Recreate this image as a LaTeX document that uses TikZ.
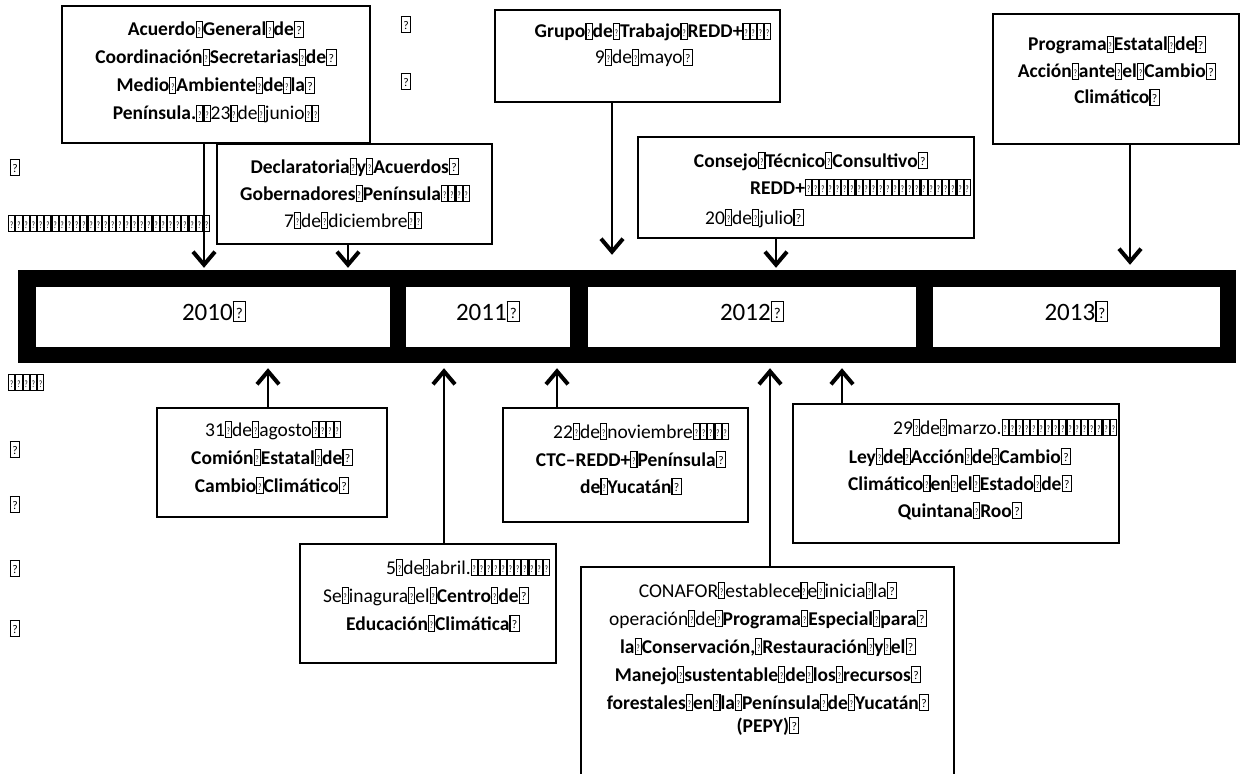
\documentclass[tikz,border=0pt]{standalone}
\usepackage{fontspec}
\setmainfont{Carlito}
\usepackage{graphicx}
\usetikzlibrary{arrows.meta}

\newcommand\gbx[3]{{\fboxsep=0pt\fboxrule=0.055em\fbox{\makebox[#1]{\rule[-0.03em]{0pt}{0.74em}\raisebox{0.08em}{\scalebox{#2}[#3]{\fontseries{m}\selectfont ?}}}}}}
\newcommand\gs{\gbx{0.26em}{0.35}{0.5}}
\newcommand\gq{\gbx{0.42em}{0.6}{0.6}}
\newcommand\gsn[1]{\foreach\k in {1,...,#1}{\gs}}

\tikzset{
  box/.style={draw, line width=2.5pt, fill=white, inner sep=0pt},
  txt/.style={anchor=base, inner sep=0pt, font=\fontsize{19.5}{23}\selectfont},
  txtw/.style={txt, anchor=base west},
  year/.style={anchor=base, inner sep=0pt, font=\fontsize{25}{30}\selectfont},
  yearbox/.style={fill=white, inner sep=0pt},
  arr/.style={line width=2.5pt, -{Straight Barb[length=13pt,width=22pt,line width=4pt]}},
}

\begin{document}
\begin{tikzpicture}[x=1pt,y=-1pt]
\useasboundingbox (0,0) rectangle (1241,773);

% stray marks
\node[txt] (m1) at (406,31) {\gq};
\node[txt] (m2) at (406,88) {\gq};
\node[txt] (m3) at (15,174) {\gq};
\node[txtw] (m4) at (8,230) {\gsn{28}};
\node[txtw] (m5) at (8,389) {\gsn{5}};
\node[txt] (m6) at (15,456) {\gq};
\node[txt] (m7) at (15,511) {\gq};
\node[txt] (m8) at (15,575) {\gq};
\node[txt] (m9) at (15,635) {\gq};

% timeline bar
\node[fill=black, minimum width=1218pt, minimum height=93pt, inner sep=0pt] (bar) at (627,316.5) {};
\node[yearbox, minimum width=354pt, minimum height=60pt] (y2010) at (213,317) {};
\node[yearbox, minimum width=164pt, minimum height=60pt] (y2011) at (488,317) {};
\node[yearbox, minimum width=328pt, minimum height=60pt] (y2012) at (752,317) {};
\node[yearbox, minimum width=287pt, minimum height=60pt] (y2013) at (1076.5,317) {};
\node[year] (t2010) at (214,320) {2010\gq};
\node[year] (t2011) at (488,320) {2011\gq};
\node[year] (t2012) at (752,320) {2012\gq};
\node[year] (t2013) at (1076.5,320) {2013\gq};

% top boxes
\node[box, minimum width=308pt, minimum height=137pt] (acuerdo) at (216,74.5) {};
\node[txt] (a1) at (216,36) {\textbf{Acuerdo\gs General\gs de}\gq};
\node[txt] (a2) at (216,64) {\textbf{Coordinación\gs Secretarias\gs de}\gq};
\node[txt] (a3) at (216,92) {\textbf{Medio\gs Ambiente\gs de\gs la}\gq};
\node[txt] (a4) at (216,120) {\textbf{Península.}\gs\gs 23\gs de\gs junio\gs\gs};

\node[box, minimum width=275pt, minimum height=100pt] (decl) at (354.5,194) {};
\node[txt] (d1) at (355,173) {\textbf{Declaratoria\gs y\gs Acuerdos}\gq};
\node[txt] (d2) at (355,200) {\textbf{Gobernadores\gs Península}\gs\gs\gs\gs};
\node[txt] (d3) at (353,227) {7\gs de\gs diciembre\gs\gs};

\node[box, minimum width=285pt, minimum height=92pt] (grupo) at (637.5,56) {};
\node[txt] (g1) at (653,38) {\textbf{Grupo\gs de\gs Trabajo\gs REDD+}\gs\gs\gs\gs};
\node[txt] (g2) at (644,64) {9\gs de\gs mayo\gq};

\node[box, minimum width=336pt, minimum height=101pt] (consejo) at (806,187.5) {};
\node[txt] (c1) at (811,167) {\textbf{Consejo\gs Técnico\gs Consultivo}\gq};
\begin{scope}
  \clip (consejo.south west) rectangle (consejo.north east);
  \node[txtw] (c2) at (750,194) {\textbf{REDD+}\gsn{23}};
\end{scope}
\node[txtw] (c3) at (705,224) {20\gs de\gs julio\gq};

\node[box, minimum width=246pt, minimum height=130pt] (programa) at (1116,79) {};
\node[txt] (p1) at (1117,51) {\textbf{Programa\gs Estatal\gs de}\gq};
\node[txt] (p2) at (1117,78) {\textbf{Acción\gs ante\gs el\gs Cambio}\gq};
\node[txt] (p3) at (1117,104) {\textbf{Climático}\gq};

% bottom boxes
\node[box, minimum width=230pt, minimum height=109pt] (comion) at (272,462.5) {};
\node[txt] (o1) at (273,436) {31\gs de\gs agosto\gs\gs\gs\gs};
\node[txt] (o2) at (272,464) {\textbf{Comión\gs Estatal\gs de}\gq};
\node[txt] (o3) at (272,492) {\textbf{Cambio\gs Climático}\gq};

\node[box, minimum width=256pt, minimum height=119pt] (abril) at (428,603.5) {};
\begin{scope}
  \clip (abril.south west) rectangle (abril.north east);
  \node[txtw] (b1) at (386,574) {5\gs de\gs abril.\gsn{11}};
\end{scope}
\node[txt] (b2) at (426,602) {Se\gs inagura\gs el\gs\textbf{Centro\gs de}\gq};
\node[txt] (b3) at (433,630) {\textbf{Educación\gs Climática}\gq};

\node[box, minimum width=245pt, minimum height=114pt] (nov) at (625.5,465) {};
\node[txt] (n1) at (641,438) {22\gs de\gs noviembre\gs\gs\gs\gs\gs};
\node[txt] (n2) at (631,466) {\textbf{CTC–REDD+\gs Península}\gq};
\node[txt] (n3) at (631,493) {\textbf{de\gs Yucatán}\gq};

\node[box, minimum width=326pt, minimum height=139pt] (ley) at (956,473.5) {};
\begin{scope}
  \clip (ley.south west) rectangle (ley.north east);
  \node[txtw] (l1) at (893,434) {29\gs de\gs marzo.\gsn{16}};
\end{scope}
\node[txt] (l2) at (960,463) {\textbf{Ley\gs de\gs Acción\gs de\gs Cambio}\gq};
\node[txt] (l3) at (960,490) {\textbf{Climático\gs en\gs el\gs Estado\gs de}\gq};
\node[txt] (l4) at (960,517) {\textbf{Quintana\gs Roo}\gq};

\node[box, minimum width=373pt, minimum height=233pt] (conafor) at (767.5,683.5) {};
\node[txt] (f1) at (768,597) {CONAFOR\gs establece\gs e\gs inicia\gs la\gq};
\node[txt] (f2) at (768,625) {operación\gs de\gs\textbf{Programa\gs Especial\gs para}\gq};
\node[txt] (f3) at (768,653) {\textbf{la\gs Conservación,\gs Restauración\gs y\gs el}\gq};
\node[txt] (f4) at (768,681) {\textbf{Manejo\gs sustentable\gs de\gs los\gs recursos}\gq};
\node[txt] (f5) at (768,709) {\textbf{forestales\gs en\gs la\gs Península\gs de\gs Yucatán}\gq};
\node[txt] (f6) at (768,732) {\textbf{(PEPY)}\gq};

% arrows
\draw[arr, shorten >=2pt] (acuerdo.south -| 204,0) -- (bar.north -| 204,0);
\draw[arr, shorten >=2pt] (decl.south -| 348,0) -- (bar.north -| 348,0);
\draw[arr, shorten >=15pt] (grupo.south -| 612,0) -- (bar.north -| 612,0);
\draw[arr, shorten >=2pt] (consejo.south -| 776,0) -- (bar.north -| 776,0);
\draw[arr, shorten >=5pt] (programa.south -| 1130,0) -- (bar.north -| 1130,0);

\draw[arr, shorten >=5pt] (comion.north -| 268,0) -- (bar.south -| 268,0);
\draw[arr, shorten >=5pt] (abril.north -| 444,0) -- (bar.south -| 444,0);
\draw[arr, shorten >=5pt] (nov.north -| 557,0) -- (bar.south -| 557,0);
\draw[arr, shorten >=5pt] (conafor.north -| 770,0) -- (bar.south -| 770,0);
\draw[arr, shorten >=5pt] (ley.north -| 842,0) -- (bar.south -| 842,0);
\end{tikzpicture}
\end{document}
